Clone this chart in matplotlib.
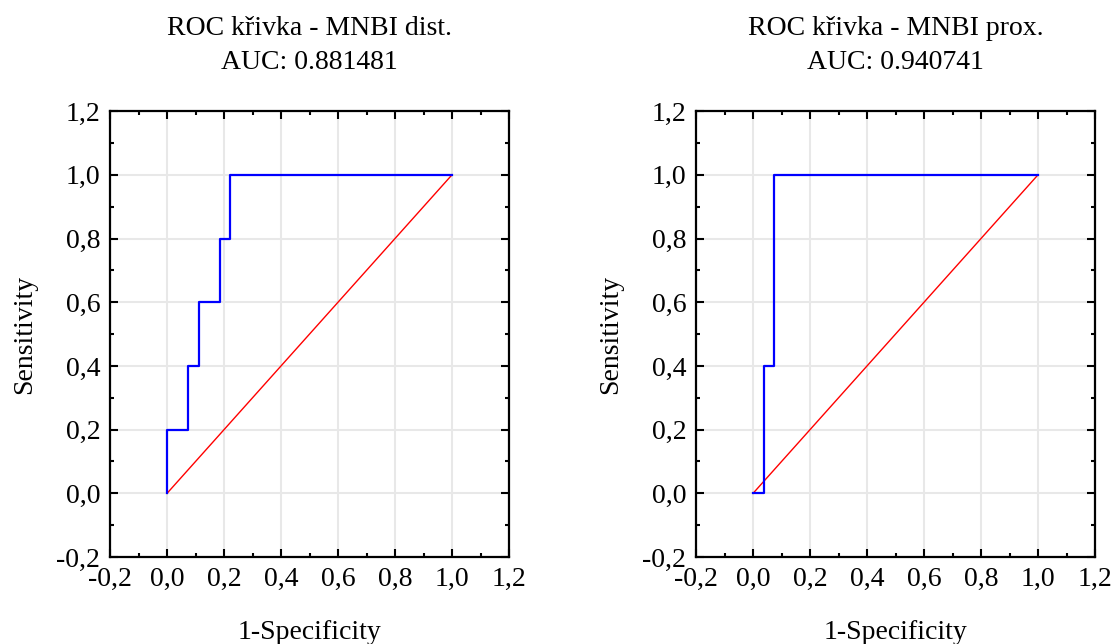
import matplotlib
matplotlib.use("Agg")
import matplotlib.pyplot as plt
from matplotlib.ticker import MultipleLocator, FuncFormatter

plt.rcParams['font.family'] = ['Liberation Serif', 'DejaVu Serif']

# ROC curve points (1-specificity, sensitivity)
dist_fpr = [0.0, 0.0, 0.074, 0.074, 0.111, 0.111, 0.185, 0.185, 0.222, 0.222, 1.0]
dist_tpr = [0.0, 0.2, 0.2, 0.4, 0.4, 0.6, 0.6, 0.8, 0.8, 1.0, 1.0]
prox_fpr = [0.0, 0.037, 0.037, 0.074, 0.074, 1.0]
prox_tpr = [0.0, 0.0, 0.4, 0.4, 1.0, 1.0]
titles = ["ROC křivka - MNBI dist.\nAUC: 0.881481", "ROC křivka - MNBI prox.\nAUC: 0.940741"]
diag = [0.0, 1.0]

fig = plt.figure(figsize=(11.16, 6.44), dpi=100)
ax1 = fig.add_axes([0.0986, 0.135, 0.3575, 0.6925])
ax2 = fig.add_axes([0.6237, 0.135, 0.3575, 0.6925])

comma = FuncFormatter(lambda v, p: ("%.1f" % v).replace(".", ","))

for ax, fpr, tpr, title in [(ax1, dist_fpr, dist_tpr, titles[0]), (ax2, prox_fpr, prox_tpr, titles[1])]:
    ax.grid(True, color='#e8e8e8', linewidth=1.5, zorder=0)
    ax.set_axisbelow(True)
    ax.plot(diag, diag, color='#ff0000', linewidth=1.0, zorder=2)
    ax.plot(fpr, tpr, color='#0000ff', linewidth=1.6, zorder=3)
    ax.set_xlim(-0.2, 1.2)
    ax.set_ylim(-0.2, 1.2)
    ax.xaxis.set_major_locator(MultipleLocator(0.2))
    ax.yaxis.set_major_locator(MultipleLocator(0.2))
    ax.xaxis.set_minor_locator(MultipleLocator(0.1))
    ax.yaxis.set_minor_locator(MultipleLocator(0.1))
    ax.xaxis.set_major_formatter(comma)
    ax.yaxis.set_major_formatter(comma)
    ax.tick_params(which='both', direction='in', top=True, right=True, width=1.5)
    ax.tick_params(which='major', length=6, labelsize=20, pad=7)
    ax.tick_params(which='minor', length=3)
    for s in ax.spines.values():
        s.set_linewidth(1.6)
    ax.set_title(title, fontsize=20, pad=30, linespacing=1.5)
    ax.set_xlabel("1-Specificity", fontsize=20, labelpad=20)
    ax.set_ylabel("Sensitivity", fontsize=20, labelpad=14)

fig.savefig("out.png", dpi=100, facecolor='white')
